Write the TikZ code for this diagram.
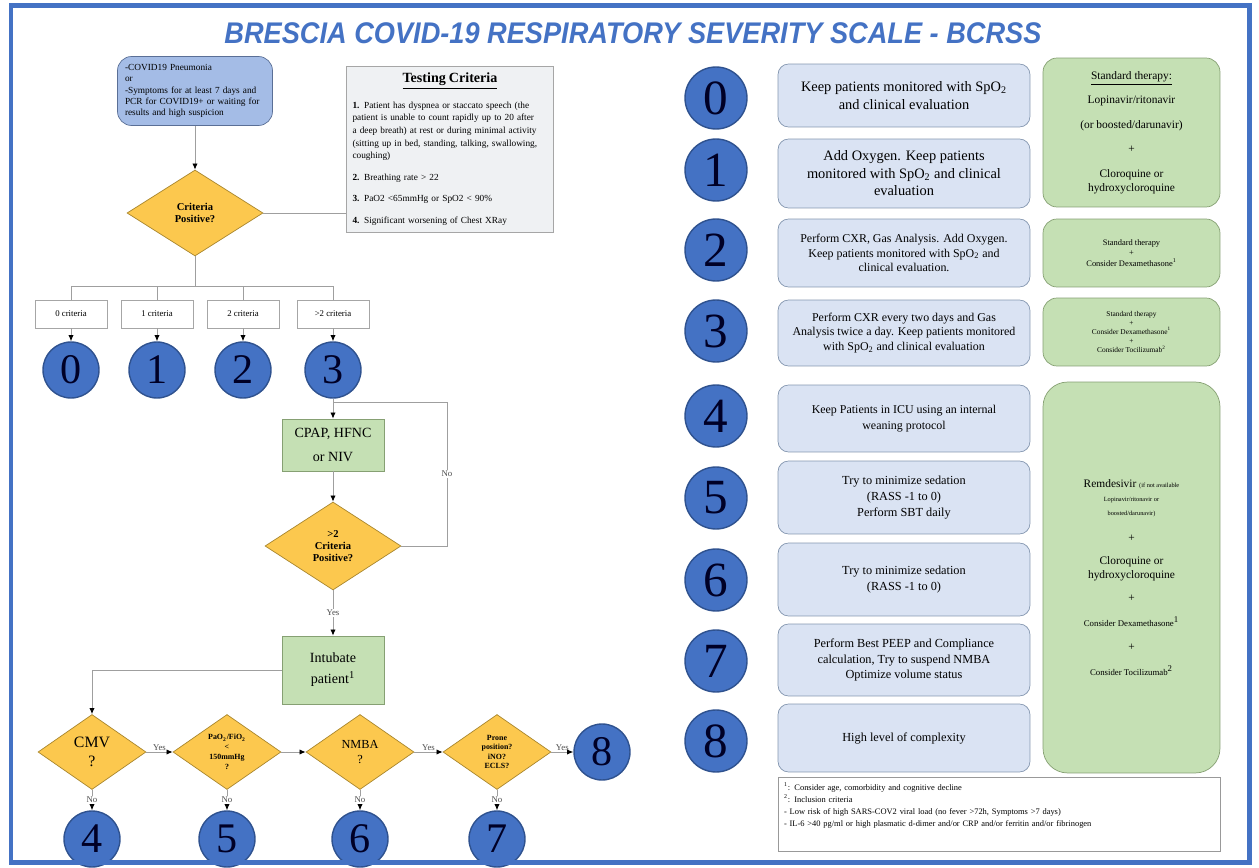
\documentclass[tikz,border=0pt]{standalone}
\usepackage{fontspec}
\usepackage{graphicx}
\setmainfont{Liberation Serif}
\newfontfamily\titlefont{Liberation Sans}
\usetikzlibrary{shapes.geometric,arrows.meta}
\definecolor{bcblue}{HTML}{4472C4}
\definecolor{bcedge}{HTML}{2F528F}
\definecolor{rowfill}{HTML}{DAE3F3}
\definecolor{rowedge}{HTML}{8497B0}
\definecolor{suspfill}{HTML}{A4BCE6}
\definecolor{suspedge}{HTML}{5A6F96}
\definecolor{grn}{HTML}{C5E0B4}
\definecolor{grnedge}{HTML}{86A073}
\definecolor{gold}{HTML}{FCC84E}
\definecolor{goldedge}{HTML}{A8862E}
\definecolor{lgray}{HTML}{EFF1F3}
\newcommand{\fsz}[2]{\fontsize{#1}{#2}\selectfont}

\begin{document}
\begin{tikzpicture}[x=0.02cm,y=-0.02cm,
  num/.style={circle,draw=bcedge,line width=0.8pt,fill=bcblue,inner sep=0,minimum size=1.12cm,text=black!85!blue,font=\fsz{24}{25}},
  bignum/.style={num,minimum size=1.24cm,font=\fsz{28}{29}},
  row/.style={draw=rowedge,fill=rowfill,rounded corners=6pt,minimum width=5.04cm,align=center,inner sep=1pt},
  grnbox/.style={draw=grnedge,fill=grn,rounded corners=8pt,minimum width=3.54cm,align=center,inner sep=1pt},
  dec/.style={diamond,draw=goldedge,fill=gold,inner sep=0,aspect=1.3,align=center,font=\bfseries\fsz{6}{7}},
  crit/.style={draw=gray!70,fill=white,minimum width=1.44cm,minimum height=0.56cm,font=\fsz{5}{6}},
  action/.style={draw=grnedge,fill=grn,align=center,font=\fsz{8}{10}},
  line/.style={draw=gray!75,line width=0.5pt},
  arr/.style={line,-{Latex[length=3.5pt,width=3pt,color=black]}},
  lab/.style={font=\fsz{5}{6},text=black!70,fill=white,inner sep=0.8pt}
]
\useasboundingbox (0,0) rectangle (1259,868);

% title
\node[font=\titlefont\bfseries\itshape\fsz{17}{20},text=bcblue] (title) at (633,33)
  {\scalebox{0.91}[1]{BRESCIA COVID-19 RESPIRATORY SEVERITY SCALE - BCRSS}};

%%%% left side: flow chart
\node[draw=suspedge,fill=suspfill,rounded corners=8pt,minimum width=3.1cm,minimum height=1.38cm,
  text width=2.8cm,align=left,font=\fsz{5.3}{6.5}] (susp) at (195,91)
  {-COVID19 Pneumonia\\or\\-Symptoms for at least 7 days and\\PCR for COVID19+ or waiting for\\results and high suspicion};

\node[draw=gray!70,fill=lgray,minimum width=4.12cm,minimum height=3.32cm,text width=3.9cm,
  align=left,font=\fsz{5.3}{7.2}] (tc) at (450,149)
  {\hfill{\fsz{8}{9.5}\bfseries\underline{Testing Criteria}}\hfill\null\\[6pt]
   \textbf{1.} Patient has dyspnea or staccato speech (the patient is unable to count rapidly up to 20 after a deep breath) at rest or during minimal activity (sitting up in bed, standing, talking, swallowing, coughing)\\[5pt]
   \textbf{2.} Breathing rate > 22\\[5pt]
   \textbf{3.} PaO2 <65mmHg or SpO2 < 90\%\\[5pt]
   \textbf{4.} Significant worsening of Chest XRay};

\node[dec,minimum width=2.72cm,minimum height=1.72cm] (crit) at (195,213) {Criteria\\Positive?};
\draw[arr] (susp) -- (crit);
\draw[line] (crit.east) -- (crit.east -| tc.west);

% criteria count
\node[crit] (k0) at (71,314) {0 criteria};
\node[crit] (k1) at (157,314) {1 criteria};
\node[crit] (k2) at (243,314) {2 criteria};
\node[crit] (k3) at (333,314) {>2 criteria};
\foreach \i/\x in {0/71,1/157,2/243,3/333}
  \node[num] (c\i) at (\x,370) {\i};
\foreach \i in {0,...,3}{
  \draw[line] (crit.south) -- ++(0,30) -| (k\i.north);
  \draw[arr] (k\i) -- (c\i);
}

% non invasive loop
\node[action,minimum width=2.04cm,minimum height=1.04cm] (cpap) at (333,445) {CPAP, HFNC\\[4pt]or NIV};
\coordinate (jn) at (333,402);
\coordinate (back) at (447,402);
\draw[line] (c3) -- (jn);
\draw[arr] (jn) -- (cpap);
\node[dec,minimum width=2.72cm,minimum height=1.76cm] (q2) at (333,546) {>2\\Criteria\\Positive?};
\draw[arr] (cpap) -- (q2);
\draw[line] (q2.east) -| node[pos=0.75,lab]{No} (back) -- (jn);

\node[action,minimum width=2.04cm,minimum height=1.36cm] (intub) at (333,670) {Intubate\\[2pt]patient\textsuperscript{1}};
\draw[arr] (q2) -- node[lab]{Yes} (intub);

% invasive ventilation
\node[dec,minimum width=2.16cm,minimum height=1.5cm,font=\fsz{9}{11}] (cmv) at (92,752) {CMV\\?};
\node[dec,minimum width=2.16cm,minimum height=1.5cm,font=\bfseries\fsz{4.5}{5.6}] (pf) at (227,752)
  {PaO\textsubscript{2}/FiO\textsubscript{2}\\<\\150mmHg\\?};
\node[dec,minimum width=2.16cm,minimum height=1.5cm,font=\fsz{7}{9}] (nmba) at (360,752) {NMBA\\?};
\node[dec,minimum width=2.16cm,minimum height=1.5cm,font=\bfseries\fsz{4.5}{5.3}] (prone) at (497,752)
  {Prone\\position?\\iNO?\\ECLS?};
\node[num] (c8) at (602,752) {8};
\foreach \i/\x in {4/92,5/227,6/360,7/497}
  \node[num] (c\i) at (\x,839) {\i};

\draw[arr] (intub.west) -| (cmv.north);
\draw[arr] (cmv) -- node[above,lab,fill=none]{Yes} (pf);
\draw[arr] (pf) -- (nmba);
\draw[arr] (nmba) -- node[above,lab,fill=none]{Yes} (prone);
\draw[arr] (prone) -- node[above,lab,fill=none]{Yes} (c8);
\draw[arr] (cmv) -- node[lab]{No} (c4);
\draw[arr] (pf) -- node[lab]{No} (c5);
\draw[arr] (nmba) -- node[lab]{No} (c6);
\draw[arr] (prone) -- node[lab]{No} (c7);

%%%% right side: severity scale
\foreach \n/\y in {0/98,1/170,2/250,3/331,4/416,5/498,6/580,7/661,8/741}
  \node[bignum] (n\n) at (716,\y) {\n};

\node[row,minimum height=1.26cm,font=\fsz{8.2}{10}] (r0) at (904,95.5)
  {Keep patients monitored with SpO\textsubscript{2}\\and clinical evaluation};
\node[row,minimum height=1.38cm,font=\fsz{8.2}{10}] (r1) at (904,173.5)
  {Add Oxygen. Keep patients\\monitored with SpO\textsubscript{2} and clinical\\evaluation};
\node[row,minimum height=1.36cm,font=\fsz{6.8}{8.2}] (r2) at (904,253)
  {Perform CXR, Gas Analysis. Add Oxygen.\\Keep patients monitored with SpO\textsubscript{2} and\\clinical evaluation.};
\node[row,minimum height=1.32cm,font=\fsz{6.8}{8.2}] (r3) at (904,333)
  {Perform CXR every two days and Gas\\Analysis twice a day. Keep patients monitored\\with SpO\textsubscript{2} and clinical evaluation};
\node[row,minimum height=1.34cm,font=\fsz{6.8}{9}] (r4) at (904,418.5)
  {Keep Patients in ICU using an internal\\weaning protocol};
\node[row,minimum height=1.46cm,font=\fsz{7}{9}] (r5) at (904,497.5)
  {Try to minimize sedation\\(RASS -1 to 0)\\Perform SBT daily};
\node[row,minimum height=1.46cm,font=\fsz{7}{9}] (r6) at (904,579.5)
  {Try to minimize sedation\\(RASS -1 to 0)};
\node[row,minimum height=1.44cm,font=\fsz{7}{9}] (r7) at (904,660)
  {Perform Best PEEP and Compliance\\calculation, Try to suspend NMBA\\Optimize volume status};
\node[row,minimum height=1.36cm,font=\fsz{7}{9}] (r8) at (904,738) {High level of complexity};

% therapies
\node[grnbox,minimum height=2.98cm,font=\fsz{6.5}{8}] (g01) at (1131.5,132.5)
  {\underline{Standard therapy:}\\[6pt]Lopinavir/ritonavir\\[6pt](or boosted/darunavir)\\[6pt]+\\[6pt]Cloroquine or\\hydroxycloroquine};
\node[grnbox,minimum height=1.36cm,font=\fsz{4.8}{6}] (g2) at (1131.5,253)
  {Standard therapy\\+\\Consider Dexamethasone\textsuperscript{1}};
\node[grnbox,minimum height=1.36cm,font=\fsz{4.2}{5.2}] (g3) at (1131.5,332)
  {Standard therapy\\+\\Consider Dexamethasone\textsuperscript{1}\\+\\Consider Tocilizumab\textsuperscript{2}};
\node[grnbox,minimum height=7.82cm,rounded corners=14pt,font=\fsz{6.5}{8}] (g48) at (1131.5,577.5)
  {Remdesivir {\fsz{3.6}{4.4}(if not available}\\{\fsz{3.6}{4.4}Lopinavir/ritonavir or}\\{\fsz{3.6}{4.4}boosted/darunavir)}\\[7pt]
   +\\[5pt]Cloroquine or\\hydroxycloroquine\\[5pt]+\\[6pt]{\fsz{5}{6}Consider Dexamethasone\textsuperscript{1}}\\[6pt]+\\[6pt]{\fsz{5}{6}Consider Tocilizumab\textsuperscript{2}}};

% footnotes
\node[draw=gray!80,fill=white,minimum width=8.84cm,minimum height=1.36cm,text width=8.6cm,
  align=left,font=\fsz{4.8}{6.8}] (foot) at (999,814)
  {\textsuperscript{1}: Consider age, comorbidity and cognitive decline\\
   \textsuperscript{2}: Inclusion criteria\\
   - Low risk of high SARS-COV2 viral load (no fever >72h, Symptoms >7 days)\\
   - IL-6 >40 pg/ml or high plasmatic d-dimer and/or CRP and/or ferritin and/or fibrinogen\\[4pt]\mbox{}};

% frame
\draw[bcblue,line width=0.1cm] (11,6) rectangle (1249,862);
\end{tikzpicture}
\end{document}
